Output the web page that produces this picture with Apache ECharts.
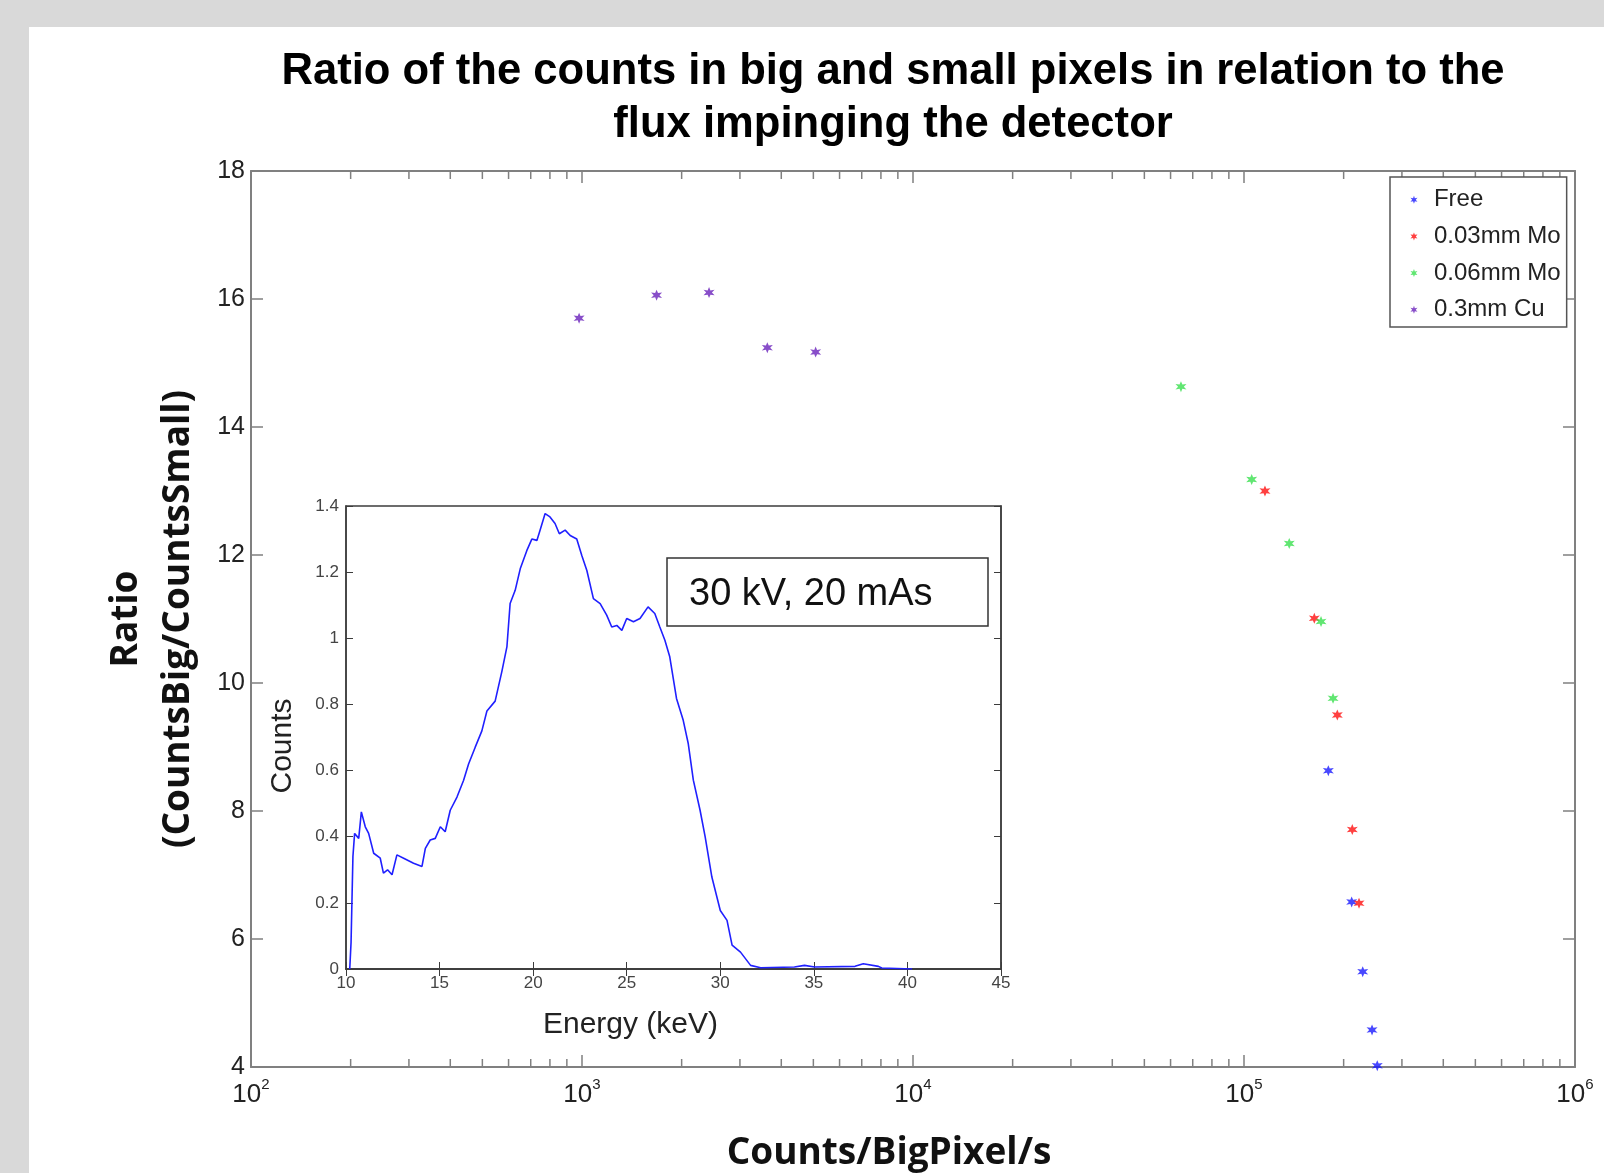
<!DOCTYPE html>
<html>
<head>
<meta charset="utf-8">
<title>Ratio of counts in big and small pixels</title>
<script src="https://cdn.jsdelivr.net/npm/echarts@6/dist/echarts.min.js"></script>
<style>
  html, body { margin: 0; padding: 0; background: #d9d9d9; }
  #panel { position: absolute; left: 29px; top: 27px; right: 0; bottom: 0; background: #fff; }
  #chart { position: absolute; left: 0; top: 0; width: 1604px; height: 1173px; }
</style>
</head>
<body>
<div id="panel"></div>
<div id="chart"></div>
<script>
// main plot: flux (counts/bigpixel/s) vs ratio
var freeX = [179800, 211500, 228400, 243700, 252700]
var freeY = [8.63, 6.58, 5.49, 4.58, 4.02]
var mo03X = [115700, 163100, 191400, 212400, 222600]
var mo03Y = [13.0, 11.01, 9.5, 7.71, 6.56]
var mo06X = [64500, 105500, 137000, 170900, 185800]
var mo06Y = [14.63, 13.18, 12.18, 10.96, 9.76]
var cu03X = [980, 1680, 2420, 3630, 5080]
var cu03Y = [15.70, 16.06, 16.10, 15.24, 15.17]
var seriesNames = ['Free', '0.03mm Mo', '0.06mm Mo', '0.3mm Cu']

// log axis minor ticks (2..9 in each decade)
var minorTicks = [200, 300, 400, 500, 600, 700, 800, 900,
  2000, 3000, 4000, 5000, 6000, 7000, 8000, 9000,
  20000, 30000, 40000, 50000, 60000, 70000, 80000, 90000,
  200000, 300000, 400000, 500000, 600000, 700000, 800000, 900000]

// inset: spectrum 30 kV, 20 mAs
var energy = [10.2, 10.27, 10.37, 10.46, 10.68, 10.82, 11.03, 11.21, 11.48, 11.83, 12.0, 12.22, 12.46, 12.72, 13.08, 13.61,
  14.06, 14.24, 14.5, 14.77, 15.04, 15.3, 15.57, 15.93, 16.28, 16.55, 16.9, 17.26, 17.53, 17.97, 18.33, 18.6, 18.77,
  19.04, 19.31, 19.66, 19.93, 20.2, 20.37, 20.64, 20.9, 21.17, 21.4, 21.71, 21.98, 22.33, 22.6, 22.87, 23.22, 23.58,
  23.93, 24.2, 24.47, 24.74, 25.0, 25.36, 25.71, 26.14, 26.5, 26.77, 27.04, 27.3, 27.66, 28.02, 28.29, 28.56, 28.92,
  29.19, 29.55, 30.0, 30.36, 30.63, 31.08, 31.62, 32.16, 33.96, 34.5, 35.04, 37.2, 37.64, 38.45, 38.63, 40.25]
var counts = [0, 0.08, 0.34, 0.41, 0.395, 0.475, 0.43, 0.41, 0.35, 0.335, 0.29, 0.30, 0.285, 0.345, 0.335, 0.32,
  0.31, 0.365, 0.39, 0.395, 0.43, 0.415, 0.48, 0.52, 0.57, 0.62, 0.67, 0.72, 0.78, 0.81, 0.90, 0.975, 1.105,
  1.145, 1.21, 1.265, 1.30, 1.296, 1.327, 1.377, 1.367, 1.347, 1.316, 1.327, 1.311, 1.30, 1.25, 1.205, 1.12, 1.105,
  1.07, 1.034, 1.039, 1.024, 1.06, 1.05, 1.06, 1.095, 1.075, 1.034, 0.994, 0.944, 0.818, 0.752, 0.681, 0.571, 0.48,
  0.40, 0.278, 0.177, 0.147, 0.072, 0.051, 0.011, 0.004, 0.006, 0.011, 0.006, 0.008, 0.016, 0.008, 0.003, 0]

var xMin = 100, xMax = 1000000
var yMin = 4, yMax = 18

var axisGray = '#808080'
var sans = "'Liberation Sans', Arial, sans-serif"
var boldSans = "'Open Sans', sans-serif"
var star = 'path://M10 0L12.25 6.1L18.66 5L14.5 10L18.66 15L12.25 13.9L10 20L7.75 13.9L1.34 15L5.5 10L1.34 5L7.75 6.1Z'
var colors = ['#1a1aff', '#ff1010', '#3ae04f', '#6a22bb']

function zip(xs, ys) {
  return xs.map(function (x, i) { return [x, ys[i]] })
}

function scatter(name, xs, ys, color) {
  return {
    name: name,
    type: 'scatter',
    xAxisIndex: 0,
    yAxisIndex: 0,
    symbol: star,
    symbolSize: 11,
    itemStyle: { color: color },
    data: zip(xs, ys),
    z: 5
  }
}

var chart = echarts.init(document.getElementById('chart'), null, { renderer: 'canvas' })

chart.setOption({
  animation: false,
  backgroundColor: 'transparent',
  title: {
    text: 'Ratio of the counts in big and small pixels in relation to the\nflux impinging the detector',
    left: 893,
    top: 45,
    textAlign: 'center',
    padding: 0,
    textStyle: {
      fontFamily: sans,
      fontWeight: 'bold',
      fontSize: 43.6,
      lineHeight: 53,
      color: '#000'
    }
  },
  legend: {
    data: seriesNames,
    orient: 'vertical',
    left: 1390,
    top: 177,
    padding: [10.7, 6, 5.3, 20.5],
    itemGap: 12.7,
    itemWidth: 8,
    itemHeight: 8,
    icon: star,
    borderColor: '#555',
    borderWidth: 1.5,
    backgroundColor: '#fff',
    textStyle: {
      fontFamily: sans,
      fontSize: 24,
      lineHeight: 24,
      color: '#222',
      padding: [0, 0, 0, 11]
    }
  },
  grid: [
    {
      left: 251, top: 171, right: 29, bottom: 106,
      outerBoundsMode: 'none',
      show: true, backgroundColor: '#fff', borderWidth: 0
    },
    {
      left: 346, top: 506, right: 603, bottom: 204,
      outerBoundsMode: 'none',
      show: true, backgroundColor: '#fff', borderColor: '#3c3c3c', borderWidth: 1.5
    }
  ],
  xAxis: [
    {
      gridIndex: 0,
      type: 'log',
      logBase: 10,
      min: xMin,
      max: xMax,
      name: 'Counts/BigPixel/s',
      nameLocation: 'middle',
      nameGap: 68,
      nameTextStyle: {
        fontFamily: boldSans,
        fontWeight: 'bold',
        fontSize: 37,
        lineHeight: 37,
        color: '#111',
        padding: [0, 48, 0, 0]
      },
      axisLine: { lineStyle: { color: axisGray, width: 2 } },
      axisTick: { inside: true, length: 12, lineStyle: { color: axisGray, width: 1.5 } },
      splitLine: { show: false },
      axisLabel: {
        margin: 10,
        formatter: function (v) {
          return '{b|10}{s|' + Math.round(Math.log10(v)) + '}'
        },
        rich: {
          b: { fontFamily: sans, fontSize: 26, color: '#222', padding: [5, 0, 0, 0] },
          s: { fontFamily: sans, fontSize: 15, color: '#222', verticalAlign: 'top' }
        }
      }
    },
    {
      gridIndex: 0,
      type: 'log',
      logBase: 10,
      min: xMin,
      max: xMax,
      position: 'top',
      axisLine: { lineStyle: { color: axisGray, width: 2 } },
      axisTick: { inside: true, length: 12, lineStyle: { color: axisGray, width: 1.5 } },
      axisLabel: { show: false },
      splitLine: { show: false }
    },
    {
      gridIndex: 1,
      type: 'value',
      min: 10,
      max: 45,
      interval: 5,
      name: 'Energy (keV)',
      nameLocation: 'middle',
      nameGap: 41,
      nameTextStyle: {
        fontFamily: sans,
        fontSize: 30,
        lineHeight: 30,
        color: '#222',
        padding: [0, 86, 0, 0]
      },
      axisLine: { lineStyle: { color: '#3c3c3c', width: 1.5 } },
      axisTick: { inside: true, length: 7, lineStyle: { color: '#3c3c3c' } },
      axisLabel: { margin: 6, fontFamily: sans, fontSize: 17, color: '#444' },
      splitLine: { show: false }
    },
    {
      gridIndex: 1,
      type: 'value',
      min: 10,
      max: 45,
      interval: 5,
      position: 'top',
      axisLine: { lineStyle: { color: '#3c3c3c', width: 1.5 } },
      axisTick: { inside: true, length: 7, lineStyle: { color: '#3c3c3c' } },
      axisLabel: { show: false },
      splitLine: { show: false }
    }
  ],
  yAxis: [
    {
      gridIndex: 0,
      type: 'value',
      min: yMin,
      max: yMax,
      interval: 2,
      name: 'Ratio\n(CountsBig/CountsSmall)',
      nameLocation: 'middle',
      nameGap: 47,
      nameTextStyle: {
        fontFamily: boldSans,
        fontWeight: 'bold',
        fontSize: 37,
        lineHeight: 52,
        color: '#111'
      },
      axisLine: { lineStyle: { color: axisGray, width: 2 } },
      axisTick: { inside: true, length: 12, lineStyle: { color: axisGray, width: 1.5 } },
      axisLabel: { margin: 6, fontFamily: sans, fontSize: 25, color: '#222' },
      splitLine: { show: false }
    },
    {
      gridIndex: 0,
      type: 'value',
      min: yMin,
      max: yMax,
      interval: 2,
      position: 'right',
      axisLine: { lineStyle: { color: axisGray, width: 2 } },
      axisTick: { inside: true, length: 12, lineStyle: { color: axisGray, width: 1.5 } },
      axisLabel: { show: false },
      splitLine: { show: false }
    },
    {
      gridIndex: 1,
      type: 'value',
      min: 0,
      max: 1.4,
      interval: 0.2,
      name: 'Counts',
      nameLocation: 'middle',
      nameGap: 48,
      nameTextStyle: {
        fontFamily: sans,
        fontSize: 30,
        lineHeight: 30,
        color: '#222',
        padding: [0, 17, 0, 0]
      },
      axisLine: { lineStyle: { color: '#3c3c3c', width: 1.5 } },
      axisTick: { inside: true, length: 7, lineStyle: { color: '#3c3c3c' } },
      axisLabel: { margin: 7, fontFamily: sans, fontSize: 17, color: '#444' },
      splitLine: { show: false }
    },
    {
      gridIndex: 1,
      type: 'value',
      min: 0,
      max: 1.4,
      interval: 0.2,
      position: 'right',
      axisLine: { lineStyle: { color: '#3c3c3c', width: 1.5 } },
      axisTick: { inside: true, length: 7, lineStyle: { color: '#3c3c3c' } },
      axisLabel: { show: false },
      splitLine: { show: false }
    }
  ],
  graphic: [
    {
      // annotation box inside the inset
      type: 'rect',
      x: 667,
      y: 558,
      z: 20,
      shape: { x: 0, y: 0, width: 321, height: 68 },
      style: { fill: '#fff', stroke: '#333', lineWidth: 1.5 }
    },
    {
      type: 'text',
      x: 689,
      y: 595,
      z: 21,
      style: {
        text: '30 kV, 20 mAs',
        fontFamily: sans,
        fontSize: 38,
        fill: '#111',
        verticalAlign: 'middle'
      }
    }
  ],
  series: [
    scatter(seriesNames[0], freeX, freeY, colors[0]),
    scatter(seriesNames[1], mo03X, mo03Y, colors[1]),
    scatter(seriesNames[2], mo06X, mo06Y, colors[2]),
    scatter(seriesNames[3], cu03X, cu03Y, colors[3]),
    {
      // minor ticks of the log axis, bottom and top
      type: 'custom',
      xAxisIndex: 0,
      yAxisIndex: 0,
      silent: true,
      clip: false,
      data: minorTicks.map(function (v) { return [v, yMin] }),
      renderItem: function (params, api) {
        var v = api.value(0)
        var b = api.coord([v, yMin])
        var t = api.coord([v, yMax])
        var st = { stroke: axisGray, lineWidth: 1.5 }
        return {
          type: 'group',
          children: [
            { type: 'line', shape: { x1: b[0], y1: b[1], x2: b[0], y2: b[1] - 8 }, style: st },
            { type: 'line', shape: { x1: t[0], y1: t[1], x2: t[0], y2: t[1] + 8 }, style: st }
          ]
        }
      }
    },
    {
      name: 'spectrum',
      type: 'line',
      xAxisIndex: 2,
      yAxisIndex: 2,
      showSymbol: false,
      symbol: 'none',
      lineStyle: { color: '#2020ff', width: 1.6 },
      data: zip(energy, counts),
      z: 6
    }
  ]
})
</script>
</body>
</html>
